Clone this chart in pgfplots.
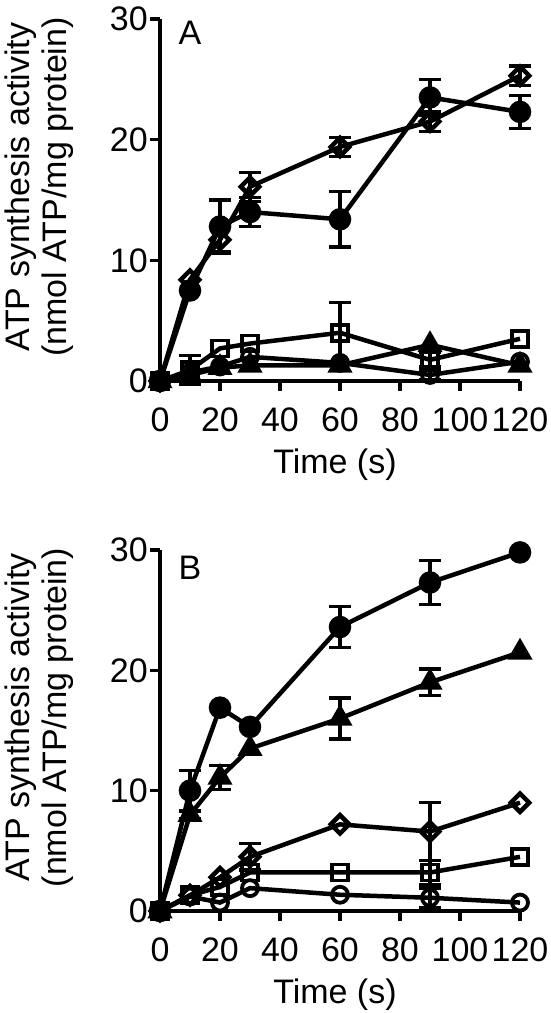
\documentclass[border=0pt]{standalone}
\usepackage{fontspec}
\setmainfont{Liberation Sans}
\usepackage{pgfplots}
\pgfplotsset{compat=1.18}
\begin{document}
\begin{tikzpicture}
\pgfplotsset{
 prism/.style={
  scale only axis, width=360pt,
  xmin=0, xmax=120, ymin=0, ymax=30,
  axis x line*=bottom, axis y line*=left,
  axis line style={line width=3.3pt, black},
  xtick={0,20,...,120}, ytick={0,10,20,30},
  tick align=outside, major tick length=10pt,
  every tick/.style={line width=3.3pt, black},
  /pgf/number format/assume math mode=true,
  tick label style={font=\fontsize{34}{36}\selectfont},
  yticklabel style={inner sep=2pt},
  xticklabel style={yshift=-13pt},
  label style={font=\fontsize{34}{37}\selectfont},
  clip=false,
  xlabel={Time (s)},
  xlabel style={at={(axis description cs:0.486,0)}, anchor=center, inner sep=0pt, yshift=-84pt},
  ylabel={ATP synthesis activity\\(nmol ATP/mg protein)},
  ylabel style={align=center, at={(axis description cs:-0.24,0.536)}, anchor=south, inner sep=0pt},
 },
 ln/.style={black, line width=4.5pt, mark options={solid, line width=3.8pt}},
 eb/.style={draw=none, mark=none, forget plot,
   error bars/.cd, y dir=both, y explicit,
   error bar style={draw=black, solid, line width=3.3pt},
   error mark options={rotate=90, mark size=11pt, line width=3.3pt, draw=black}},
}
\path[use as bounding box] (0,0) rectangle (550pt,1013pt);

% ---------------- Panel A ----------------
\begin{axis}[prism, height=362pt, at={(160pt,632pt)}, anchor=south west]
\addplot[eb] table[y error=e] {
x y e
20 12.8 2.2
30 14.0 1.2
60 13.4 2.3
90 23.5 1.5
120 22.3 1.35
};
\addplot[eb] table[y error=e] {
x y e
20 11.7 1.0
30 16.1 1.2
60 19.4 0.8
90 21.5 0.8
120 25.3 0.8
};
\addplot[eb] table[y error=e] {
x y e
10 0.9 1.2
60 4.0 2.5
90 1.75 0.6
};
\addplot[eb] table[y error=e] {
x y e
90 0.5 0.4
};
\addplot[ln, mark=square, mark size=8pt] table {
x y
0 0
10 0.9
20 2.7
30 3.1
60 4.0
90 1.75
120 3.5
};
\addplot[ln, mark=o, mark size=8pt] table {
x y
0 0
10 0.7
20 1.2
30 2.0
60 1.5
90 0.5
120 1.6
};
\addplot[ln, mark=triangle*, mark size=10pt, mark options={fill=black}] table {
x y
0 0
10 0.5
20 1.1
30 1.3
60 1.3
90 3.0
120 1.3
};
\addplot[ln, mark=square, mark size=6.5pt, mark options={rotate=45}] table {
x y
0 0
10 8.4
20 11.7
30 16.1
60 19.4
90 21.5
120 25.3
};
\addplot[ln, mark=*, mark size=9pt, mark options={fill=black}] table {
x y
0 0
10 7.5
20 12.8
30 14.0
60 13.4
90 23.5
120 22.3
};
\node[font=\fontsize{34}{36}\selectfont, anchor=center] at (axis description cs:0.083,0.961) {A};
\end{axis}

% ---------------- Panel B ----------------
\begin{axis}[prism, height=361pt, at={(160pt,102pt)}, anchor=south west]
\addplot[eb] table[y error=e] {
x y e
10 10.0 1.7
60 23.6 1.7
90 27.3 1.8
};
\addplot[eb] table[y error=e] {
x y e
10 8.0 0.3
20 11.1 1.0
60 16.0 1.7
90 19.0 1.1
};
\addplot[eb] table[y error=e] {
x y e
30 4.5 1.1
90 6.6 2.4
};
\addplot[eb] table[y error=e] {
x y e
90 3.2 1.0
};
\addplot[eb] table[y error=e] {
x y e
90 1.1 0.8
};
\addplot[ln, mark=o, mark size=8pt] table {
x y
0 0
10 1.2
20 0.7
30 1.9
60 1.35
90 1.1
120 0.7
};
\addplot[ln, mark=square, mark size=8pt] table {
x y
0 0
10 1.3
20 2.0
30 3.2
60 3.2
90 3.2
120 4.5
};
\addplot[ln, mark=square, mark size=6.5pt, mark options={rotate=45}] table {
x y
0 0
10 1.3
20 2.8
30 4.5
60 7.2
90 6.6
120 9.0
};
\addplot[ln, mark=triangle*, mark size=10pt, mark options={fill=black}] table {
x y
0 0
10 8.0
20 11.1
30 13.5
60 16.0
90 19.0
120 21.5
};
\addplot[ln, mark=*, mark size=9pt, mark options={fill=black}] table {
x y
0 0
10 10.0
20 16.9
30 15.3
60 23.6
90 27.3
120 29.8
};
\node[font=\fontsize{34}{36}\selectfont, anchor=center] at (axis description cs:0.083,0.950) {B};
\end{axis}
\end{tikzpicture}
\end{document}
